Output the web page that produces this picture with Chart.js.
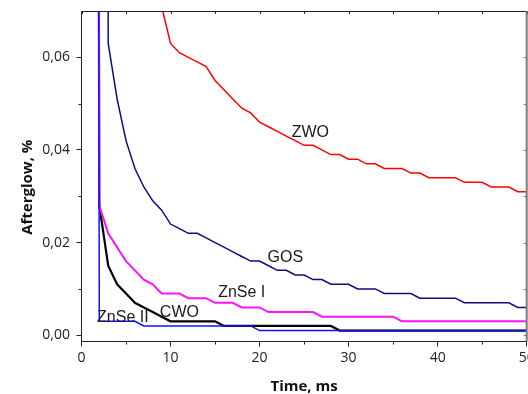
<!DOCTYPE html>
<html>
<head>
<meta charset="utf-8">
<script src="https://cdn.jsdelivr.net/npm/chart.js@4.4.1/dist/chart.umd.min.js"></script>
<style>
  html, body { margin: 0; padding: 0; background: #fff; }
  canvas { display: block; }
</style>
</head>
<body>
<canvas id="chart" width="528" height="394"></canvas>
<script>
// time after excitation cut-off, ms
const timeMs = [1, 2, 3, 4, 5, 6, 7, 8, 9, 10,
  11, 12, 13, 14, 15, 16, 17, 18, 19, 20,
  21, 22, 23, 24, 25, 26, 27, 28, 29, 30,
  31, 32, 33, 34, 35, 36, 37, 38, 39, 40,
  41, 42, 43, 44, 45, 46, 47, 48, 49, 50];

// afterglow, % (1.0 = off scale)
const zwoValues = [null, null, null, null, null, null, null, null, 0.071, 0.063,
  0.061, 0.060, 0.059, 0.058, 0.055, 0.053, 0.051, 0.049, 0.048, 0.046,
  0.045, 0.044, 0.043, 0.042, 0.041, 0.041, 0.040, 0.039, 0.039, 0.038,
  0.038, 0.037, 0.037, 0.036, 0.036, 0.036, 0.035, 0.035, 0.034, 0.034,
  0.034, 0.034, 0.033, 0.033, 0.033, 0.032, 0.032, 0.032, 0.031, 0.031];

const gosValues = [null, 1.0, 0.063, 0.051, 0.042, 0.036, 0.032, 0.029, 0.027, 0.024,
  0.023, 0.022, 0.022, 0.021, 0.020, 0.019, 0.018, 0.017, 0.016, 0.016,
  0.015, 0.014, 0.014, 0.013, 0.013, 0.012, 0.012, 0.011, 0.011, 0.011,
  0.010, 0.010, 0.010, 0.009, 0.009, 0.009, 0.009, 0.008, 0.008, 0.008,
  0.008, 0.008, 0.007, 0.007, 0.007, 0.007, 0.007, 0.007, 0.006, 0.006];

const znse1Values = [1.0, 0.028, 0.022, 0.019, 0.016, 0.014, 0.012, 0.011, 0.009, 0.009,
  0.009, 0.008, 0.008, 0.008, 0.007, 0.007, 0.007, 0.006, 0.006, 0.006,
  0.005, 0.005, 0.005, 0.005, 0.005, 0.005, 0.004, 0.004, 0.004, 0.004,
  0.004, 0.004, 0.004, 0.004, 0.004, 0.003, 0.003, 0.003, 0.003, 0.003,
  0.003, 0.003, 0.003, 0.003, 0.003, 0.003, 0.003, 0.003, 0.003, 0.003];

const cwoValues = [1.0, 0.028, 0.015, 0.011, 0.009, 0.007, 0.006, 0.005, 0.004, 0.003,
  0.003, 0.003, 0.003, 0.003, 0.003, 0.002, 0.002, 0.002, 0.002, 0.002,
  0.002, 0.002, 0.002, 0.002, 0.002, 0.002, 0.002, 0.002, 0.001, 0.001,
  0.001, 0.001, 0.001, 0.001, 0.001, 0.001, 0.001, 0.001, 0.001, 0.001,
  0.001, 0.001, 0.001, 0.001, 0.001, 0.001, 0.001, 0.001, 0.001, 0.001];

const znse2Values = [1.0, 0.003, 0.003, 0.003, 0.003, 0.003, 0.002, 0.002, 0.002, 0.002,
  0.002, 0.002, 0.002, 0.002, 0.002, 0.002, 0.002, 0.002, 0.002, 0.001,
  0.001, 0.001, 0.001, 0.001, 0.001, 0.001, 0.001, 0.001, 0.001, 0.001,
  0.001, 0.001, 0.001, 0.001, 0.001, 0.001, 0.001, 0.001, 0.001, 0.001,
  0.001, 0.001, 0.001, 0.001, 0.001, 0.001, 0.001, 0.001, 0.001, 0.001];

const xTicks = [0, 10, 20, 30, 40, 50];
const xMinorTicks = [5, 15, 25, 35, 45];
const yTicks = [0, 0.02, 0.04, 0.06];
const yTickLabels = ["0,00", "0,02", "0,04", "0,06"];
const yMinorTicks = [0.01, 0.03, 0.05];

// where each curve name sits (time, afterglow) -- left/baseline of text
const tagAt = {
  "ZWO": [23.6, 0.0428],
  "GOS": [20.9, 0.0159],
  "ZnSe I": [15.35, 0.0082],
  "CWO": [8.8, 0.0040],
  "ZnSe II": [1.75, 0.0029]
};

const AXIS = "#222";
const TICK_FONT = { family: "'Open Sans', sans-serif", size: 14 };

// fixed axis boxes, no extra room for overhanging tick labels
const fixSize = (w, h) => (s) => {
  if (w != null) s.width = w;
  if (h != null) s.height = h;
  s.paddingLeft = s.paddingRight = s.paddingTop = s.paddingBottom = 0;
};

// box frame: top/right edges, inward ticks, short minor ticks
const framePlugin = {
  id: "frame",
  afterDraw(chart) {
    const { ctx, chartArea: a, scales: { x, y } } = chart;
    const px = (t) => Math.round(x.getPixelForValue(t)) + 0.5;
    const py = (v) => Math.round(y.getPixelForValue(v)) + 0.5;
    ctx.save();
    ctx.strokeStyle = AXIS;
    ctx.lineWidth = 1;
    ctx.beginPath();
    ctx.moveTo(a.left, Math.round(a.top) + 0.5);
    ctx.lineTo(a.right, Math.round(a.top) + 0.5);
    for (const t of [...xTicks, ...xMinorTicks]) {
      ctx.moveTo(px(t), a.top); ctx.lineTo(px(t), a.top + 3);
    }
    for (const t of xMinorTicks) {
      ctx.moveTo(px(t), a.bottom); ctx.lineTo(px(t), a.bottom + 3);
    }
    for (const v of yMinorTicks) {
      ctx.moveTo(a.left - 3, py(v)); ctx.lineTo(a.left, py(v));
    }
    ctx.stroke();

    ctx.strokeStyle = "#7a7a7a";
    ctx.lineWidth = 2;
    ctx.beginPath();
    ctx.moveTo(a.right, a.top); ctx.lineTo(a.right, a.bottom);
    ctx.stroke();
    ctx.lineWidth = 1;
    ctx.beginPath();
    for (const v of [...yTicks, ...yMinorTicks]) {
      ctx.moveTo(a.right - 3, py(v)); ctx.lineTo(a.right, py(v));
    }
    ctx.stroke();
    ctx.restore();
  }
};

// curve names and the rotated y title
const textPlugin = {
  id: "texts",
  afterDraw(chart) {
    const { ctx, chartArea: a, scales: { x, y } } = chart;
    ctx.save();
    ctx.fillStyle = "#1a1a1a";
    ctx.font = "16px 'Liberation Sans', Arial, sans-serif";
    ctx.textAlign = "left";
    ctx.textBaseline = "alphabetic";
    for (const [name, [t, v]] of Object.entries(tagAt)) {
      ctx.fillText(name, x.getPixelForValue(t), y.getPixelForValue(v));
    }

    ctx.translate(28, (a.top + a.bottom) / 2 + 11);
    ctx.rotate(-Math.PI / 2);
    ctx.font = "bold 15px 'Open Sans', sans-serif";
    ctx.fillStyle = "#111";
    ctx.textAlign = "center";
    ctx.textBaseline = "middle";
    ctx.fillText("Afterglow, %", 0, 0);
    ctx.restore();
  }
};

const line = (label, data, color, width, order) => ({
  label, data, order,
  borderColor: color,
  borderWidth: width,
  pointRadius: 0,
  tension: 0,
  fill: false,
  clip: 0
});

new Chart(document.getElementById("chart"), {
  type: "line",
  data: {
    labels: timeMs,
    datasets: [
      line("ZnSe II", znse2Values, "#1010ff", 1.5, 0),
      line("ZnSe I", znse1Values, "#ff10ff", 2, 1),
      line("CWO", cwoValues, "#000000", 2.2, 2),
      line("GOS", gosValues, "#0c0c84", 1.5, 3),
      line("ZWO", zwoValues, "#ff0000", 1.5, 4)
    ]
  },
  options: {
    responsive: false,
    animation: false,
    events: [],
    layout: { autoPadding: false, padding: { top: 11, right: 1.3, bottom: 0, left: 0 } },
    plugins: { legend: { display: false }, tooltip: { enabled: false } },
    scales: {
      x: {
        type: "linear",
        min: 0, max: 50,
        afterBuildTicks: (s) => { s.ticks = xTicks.map((value) => ({ value })); },
        afterFit: fixSize(null, 52.5),
        border: { display: true, color: AXIS, width: 1 },
        grid: { display: true, drawOnChartArea: false, drawTicks: true, tickLength: 5, color: AXIS },
        ticks: { autoSkip: false, maxRotation: 0, padding: 3, color: AXIS, font: TICK_FONT,
                 callback: (v) => String(v) },
        title: { display: true, text: "Time, ms", color: "#111", padding: { top: 0, bottom: 0 },
                 font: { family: "'Open Sans', sans-serif", size: 15, weight: "bold", lineHeight: 1 } }
      },
      y: {
        type: "linear",
        min: -0.00136, max: 0.07,
        afterBuildTicks: (s) => { s.ticks = yTicks.map((value) => ({ value })); },
        afterFit: fixSize(81.5, null),
        border: { display: true, color: AXIS, width: 1 },
        grid: { display: true, drawOnChartArea: false, drawTicks: true, tickLength: 5, color: AXIS },
        ticks: { padding: 6.5, color: AXIS, font: TICK_FONT,
                 callback: (v) => yTickLabels[yTicks.indexOf(v)] }
      }
    }
  },
  plugins: [framePlugin, textPlugin]
});
</script>
</body>
</html>
